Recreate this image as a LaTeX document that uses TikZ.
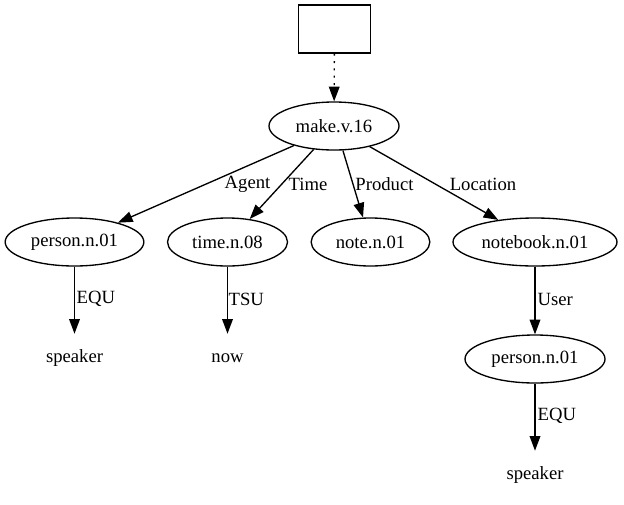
\documentclass[tikz,border=0pt]{standalone}
\usepackage{fontspec}
\setmainfont{Liberation Serif}
\usetikzlibrary{arrows.meta,positioning,shapes.geometric}

\begin{document}
\begin{tikzpicture}[x=0.75pt, y=-0.75pt, font=\fontsize{14}{16}\selectfont,
  sense/.style={draw, ellipse, line width=1pt, inner sep=0pt, minimum height=36pt},
  frame/.style={draw, rectangle, line width=1pt, minimum width=54pt, minimum height=36pt},
  leaf/.style={inner sep=0pt, minimum height=36pt},
  rel/.style={inner sep=0pt},
  link/.style={line width=1pt, -{Triangle[length=11pt, width=8pt]}}]
  \useasboundingbox (0,0) rectangle (624,504);
  % Root box and main predicate
  \node[frame] (top) at (334.5,29) {};
  \node[sense, minimum width=97.5pt] (make) at (334,126) {make.v.16};
  % Role fillers (first level)
  \node[sense, minimum width=104pt] (agent) at (74.5,242) {person.n.01};
  \node[sense, minimum width=90pt] (time) at (227.5,242) {time.n.08};
  \node[sense, minimum width=89pt] (note) at (370.5,242) {note.n.01};
  \node[sense, minimum width=123pt] (notebook) at (535,242) {notebook.n.01};
  % Constants and second level
  \node[leaf] (speakerA) at (74.5,358) {speaker};
  \node[leaf] (now) at (227.5,358) {now};
  \node[sense, minimum width=105pt] (user) at (535,359) {person.n.01};
  \node[leaf] (speakerB) at (535,475) {speaker};
  % Edges
  \draw[link, dash pattern=on 1.5pt off 4pt] (top) -- (make);
  \draw[link] (make.206) -- (agent.24) node[rel] at (247.5,184) {Agent};
  \draw[link] (make.229) -- (time.46) node[rel] at (308,184) {Time};
  \draw[link] (make.290) -- (note.107) node[rel] at (384.5,184) {Product};
  \draw[link] (make.330) -- (notebook.149) node[rel] at (483,184) {Location};
  \draw[link] (agent) -- (speakerA) node[rel, anchor=west] at (76,299) {EQU};
  \draw[link] (time) -- (now) node[rel, anchor=west] at (228,299) {TSU};
  \draw[link] (notebook) -- (user) node[rel, anchor=west] at (537,299) {User};
  \draw[link] (user) -- (speakerB) node[rel, anchor=west] at (537,416) {EQU};
\end{tikzpicture}
\end{document}
